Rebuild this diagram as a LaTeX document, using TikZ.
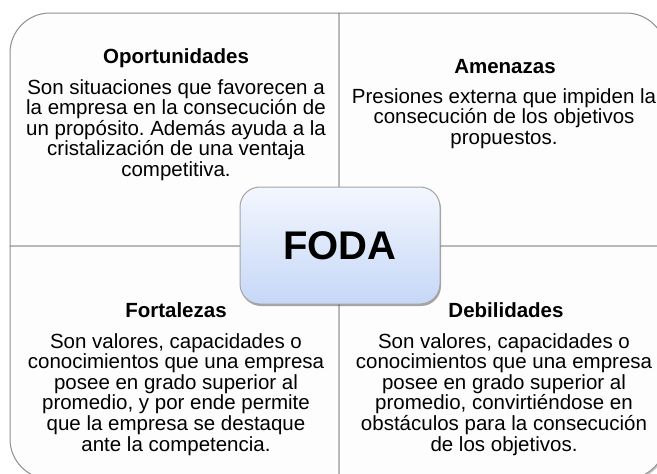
\documentclass[tikz,border=0pt]{standalone}
\usepackage{fontspec}
\setmainfont{Liberation Sans}
\frenchspacing
\usetikzlibrary{shadows}
\definecolor{quadline}{HTML}{909090}
\definecolor{quadfill}{HTML}{FDFDFD}
\definecolor{boxtop}{HTML}{F3F7FE}
\definecolor{boxbot}{HTML}{C6D7F7}
\definecolor{boxline}{HTML}{A4A4A4}
\tikzset{
  quad/.style={draw=quadline, line width=1pt, fill=quadfill,
    drop shadow={shadow xshift=1.5pt, shadow yshift=-1.5pt, opacity=0.22, fill=black}},
  titletext/.style={font=\fontsize{20.5}{24}\selectfont\bfseries, inner sep=0pt, anchor=base},
  bodytext/.style={font=\fontsize{20.5}{20.6}\selectfont, align=center, inner sep=0pt, anchor=north},
  centerbox/.style={draw=boxline, line width=1pt, rounded corners=20pt,
    top color=boxtop, bottom color=boxbot, minimum width=200pt, minimum height=117pt,
    drop shadow={shadow xshift=1pt, shadow yshift=-2pt, opacity=0.35, fill=black},
    font=\fontsize{40}{48}\selectfont\bfseries}
}
\begin{document}
\begin{tikzpicture}[x=1pt, y=-1pt]
\useasboundingbox (0,0) rectangle (657,474);
\fill[white] (0,0) rectangle (657,474);
% quadrants
\path[quad] (339,246) -- (10,246) -- (10,53) .. controls (10,30.9) and (27.9,13) .. (50,13) -- (339,13) -- cycle;
\path[quad] (339,13) -- (626,13) .. controls (648.1,13) and (666,30.9) .. (666,53) -- (666,246) -- (339,246) -- cycle;
\path[quad] (10,246) -- (339,246) -- (339,479) -- (50,479) .. controls (27.9,479) and (10,461.1) .. (10,439) -- cycle;
\path[quad] (339,246) -- (666,246) -- (666,439) .. controls (666,461.1) and (648.1,479) .. (626,479) -- (339,479) -- cycle;
% texts
\node[titletext] (t1) at (176,63) {Oportunidades};
\node[bodytext] (b1) at (176,79) {Son situaciones que favorecen a\\la empresa en la consecución de\\un propósito. Además ayuda a la\\cristalización de una ventaja\\competitiva.};
\node[titletext] (t2) at (505,73) {Amenazas};
\node[bodytext] (b2) at (504,88) {Presiones externa que impiden la\\consecución de los objetivos\\propuestos.};
\node[titletext] (t3) at (176,317) {Fortalezas};
\node[bodytext] (b3) at (176,333) {Son valores, capacidades o\\conocimientos que una empresa\\posee en grado superior al\\promedio, y por ende permite\\que la empresa se destaque\\ante la competencia.};
\node[titletext] (t4) at (506,317) {Debilidades};
\node[bodytext] (b4) at (504,333) {Son valores, capacidades o\\conocimientos que una empresa\\posee en grado superior al\\promedio, convirtiéndose en\\obstáculos para la consecución\\de los objetivos.};
% center
\node[centerbox] (foda) at (340,245.5) {FODA};
\end{tikzpicture}
\end{document}
